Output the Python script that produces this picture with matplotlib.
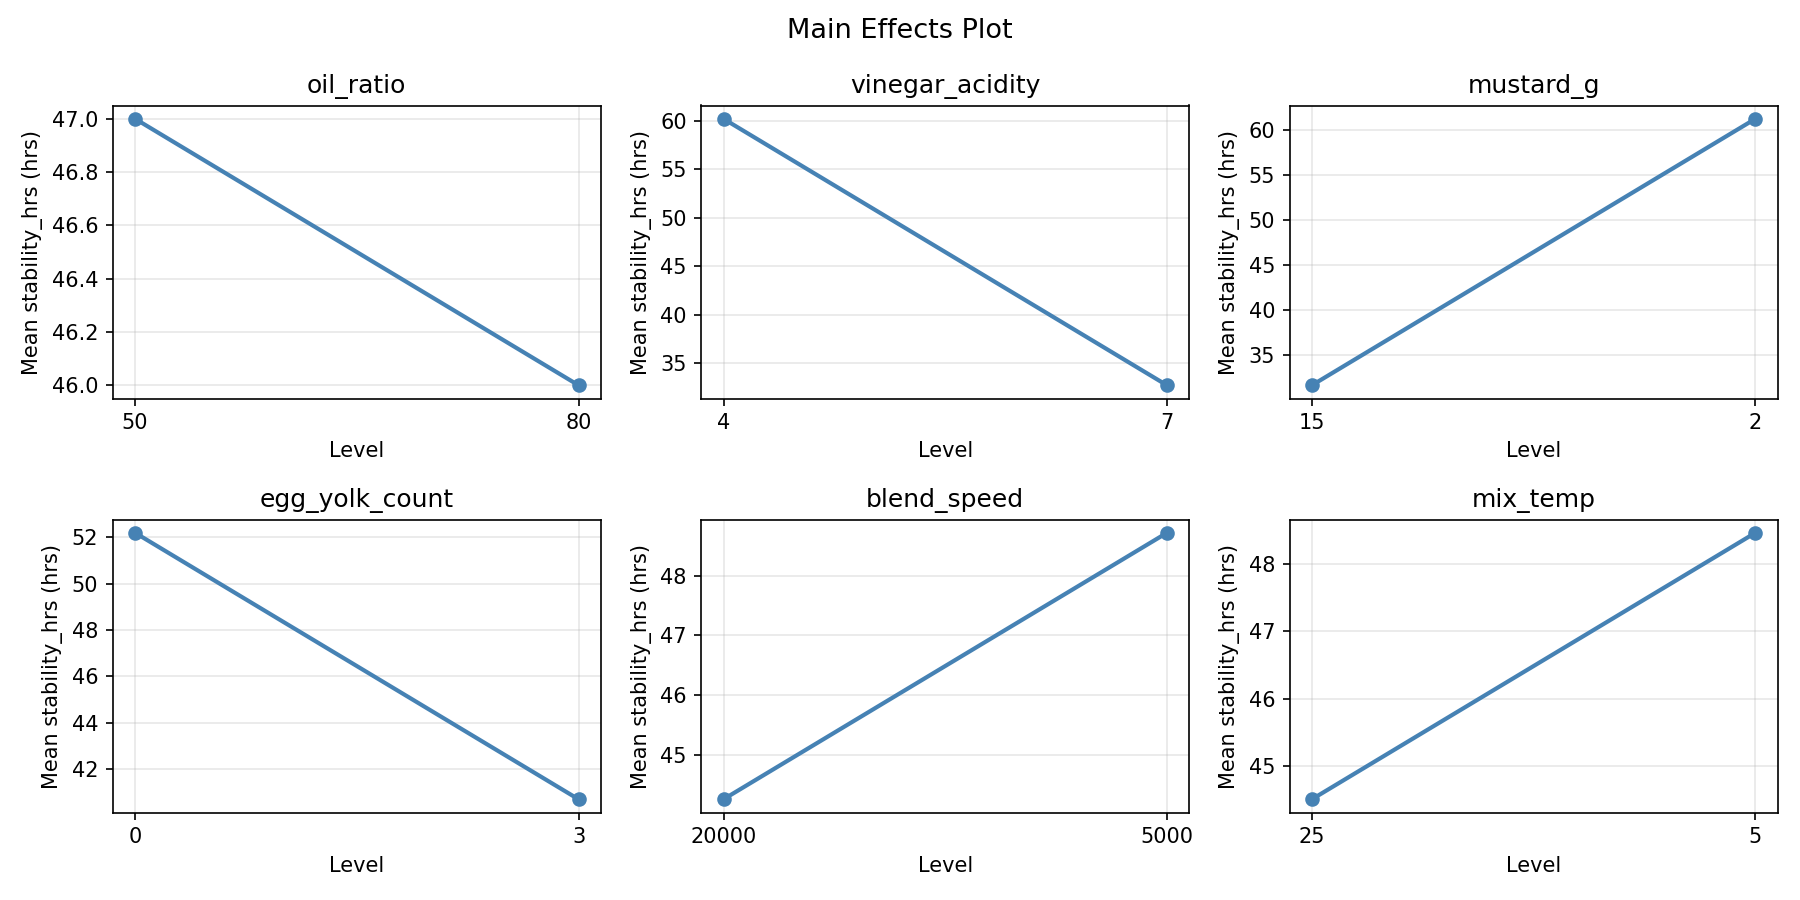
import matplotlib
matplotlib.use("Agg")
import matplotlib.pyplot as plt

factors = ["oil_ratio", "vinegar_acidity", "mustard_g",
           "egg_yolk_count", "blend_speed", "mix_temp"]
levels = [["50", "80"], ["4", "7"], ["15", "2"],
          ["0", "3"], ["20000", "5000"], ["25", "5"]]
means = [[47.0, 46.0], [60.2, 32.7], [31.7, 61.2],
         [52.2, 40.7], [44.25, 48.72], [44.5, 48.47]]

fig, axes = plt.subplots(2, 3, figsize=(12, 6))
for ax, name, lv, m in zip(axes.flat, factors, levels, means):
    x = list(range(len(lv)))
    ax.plot(x, m, marker='o', color='steelblue', linewidth=2, markersize=6)
    ax.set_xticks(x)
    ax.set_xticklabels(lv)
    ax.set_title(name)
    ax.set_xlabel("Level")
    ax.set_ylabel("Mean stability_hrs (hrs)")
    ax.grid(True, alpha=0.3)

fig.suptitle("Main Effects Plot", fontsize=13)
plt.tight_layout()
plt.savefig("out.png", dpi=150)
